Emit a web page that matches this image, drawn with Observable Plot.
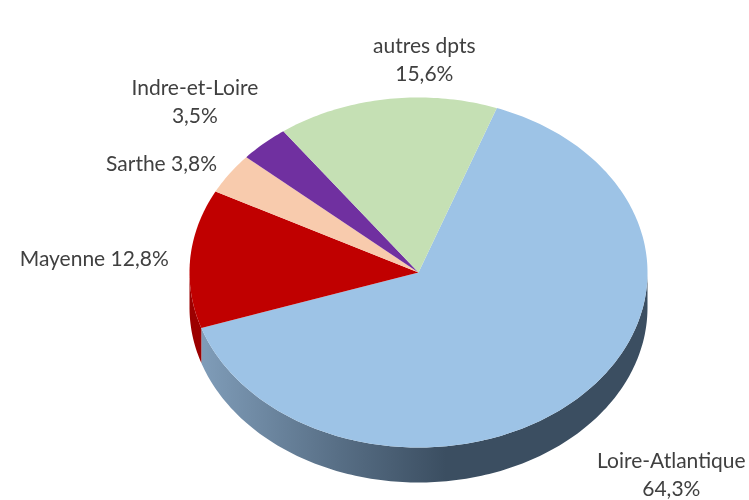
<!DOCTYPE html>
<html lang="fr">
<head>
<meta charset="utf-8">
<script src="https://cdn.jsdelivr.net/npm/d3@7"></script>
<script src="https://cdn.jsdelivr.net/npm/@observablehq/plot@0.6"></script>
<style>
  html, body { margin: 0; padding: 0; background: #fff; }
  svg { display: block; }
</style>
</head>
<body>
<div id="chart"></div>
<script>
// Data, clockwise from the top edge of the Loire-Atlantique slice
const names = ["Loire-Atlantique", "Mayenne", "Sarthe", "Indre-et-Loire", "autres dpts"];
const shares = [64.3, 12.8, 3.8, 3.5, 15.6];
const labels = ["Loire-Atlantique\n64,3%", "Mayenne 12,8%", "Sarthe 3,8%", "Indre-et-Loire\n3,5%", "autres dpts\n15,6%"];
const colors = ["#9dc3e6", "#c00000", "#f8cbad", "#7030a0", "#c5e0b4"];
const sideColors = ["url(#wall)", "#9c0000", "#c8a08a", "#5a2680", "#9fb591"];

// Presentation settings
const W = 749, H = 500, CX = 418, CY = 272, RX = 229, RY = 175, DEPTH = 35;
const firstAngle = 20;              // degrees clockwise from 12 o'clock
const labelDx = [93, -96, -68, -69, 38];
const labelDy = [75, -2, -12, -43, -41];

const rad = (deg) => deg * Math.PI / 180;
const rim = (deg, drop = 0) => ({px: Math.sin(rad(deg)), py: Math.cos(rad(deg)) - drop});
const arc = (a, b) => d3.range(a, b, 1).concat(b);

let cursor = firstAngle;
const slices = names.map((name, i) => {
  const start = cursor, end = cursor + shares[i] * 3.6;
  cursor = end;
  return {name, start, end, mid: (start + end) / 2, label: labels[i], side: sideColors[i], dx: labelDx[i], dy: labelDy[i]};
});

const topFaces = slices.flatMap((s) => [
  {name: s.name, px: 0, py: 0},
  ...arc(s.start, s.end).map((a) => ({name: s.name, ...rim(a)}))
]);

const drop = DEPTH / RY;
const wall = (s) => {
  const a = Math.max(s.start, 90), b = Math.min(s.end, 270);
  if (b <= a) return [];
  const angles = arc(a, b);
  return [
    ...angles.map((t) => rim(t)),
    ...angles.slice().reverse().map((t) => rim(t, drop))
  ];
};

const wallGradient = (index, {x}) => {
  const defs = d3.create("svg:defs");
  const g = defs.append("linearGradient").attr("id", "wall")
    .attr("gradientUnits", "userSpaceOnUse")
    .attr("x1", x(-0.94)).attr("x2", x(0.12)).attr("y1", 0).attr("y2", 0);
  g.append("stop").attr("offset", "0%").attr("stop-color", "#7f9cb8");
  g.append("stop").attr("offset", "55%").attr("stop-color", "#586f86");
  g.append("stop").attr("offset", "100%").attr("stop-color", "#3b4e61");
  return defs.node();
};

const chart = Plot.plot({
  width: W,
  height: H,
  margin: 0,
  axis: null,
  style: {background: "#fff", filter: "blur(0.5px)"},
  x: {type: "linear", domain: [-CX / RX, (W - CX) / RX], range: [0, W]},
  y: {type: "linear", domain: [(CY - H) / RY, CY / RY], range: [H, 0]},
  color: {domain: names, range: colors},
  marks: [
    wallGradient,
    ...slices.map((s) => Plot.line(wall(s), {x: "px", y: "py", fill: s.side, stroke: "none"})),
    Plot.line(topFaces, {x: "px", y: "py", z: "name", fill: "name", stroke: "none", curve: "linear"}),
    ...slices.map((s) => Plot.text([s], {
      x: (d) => rim(d.mid).px,
      y: (d) => rim(d.mid).py,
      text: "label",
      dx: s.dx,
      dy: s.dy,
      fontFamily: "Lato, 'Open Sans', sans-serif",
      fontSize: 21,
      lineHeight: 1.33,
      fill: "#404040"
    }))
  ]
});
document.getElementById("chart").append(chart);
</script>
</body>
</html>
